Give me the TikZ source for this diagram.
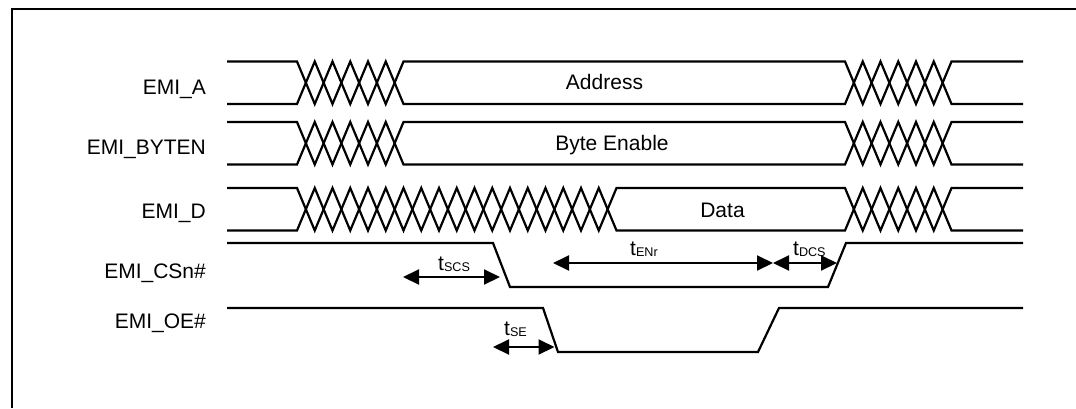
\documentclass[tikz,border=0pt]{standalone}
\usepackage{fontspec}
\setmainfont{Liberation Sans}
\usetikzlibrary{arrows.meta}
\newcommand\tlab[1]{t\raisebox{-1.5pt}{\fontsize{12.6}{14}\selectfont #1}}
\begin{document}
\begin{tikzpicture}[x=1pt,y=-1pt,
  sig/.style={line width=2.2pt, line join=miter},
  framed/.style={line width=2pt},
  dimarrow/.style={line width=2pt, {Triangle[length=16pt,width=15pt]}-{Triangle[length=16pt,width=15pt]}},
  lab/.style={anchor=base east, inner sep=0pt, font=\fontsize{21}{25}\selectfont},
  txt/.style={anchor=base, inner sep=0pt, font=\fontsize{21}{25}\selectfont},
  tl/.style={anchor=base west, inner sep=0pt, font=\fontsize{21}{25}\selectfont}]
\useasboundingbox (0,0) rectangle (1076,408);
% frame
\draw[framed] (11.5,408) -- (11.5,8.5) -- (1076,8.5);
% signal labels
\node[lab] (lA) at (206,94.5) {EMI\_A};
\node[lab] (lB) at (206,154.5) {EMI\_BYTEN};
\node[lab] (lD) at (206,218) {EMI\_D};
\node[lab] (lC) at (206,278) {EMI\_CSn\#};
\node[lab] (lO) at (206,328) {EMI\_OE\#};
% EMI_A
\draw[sig] (227,61.5) -- (297,61.5)
  \foreach \i in {1,...,6}{ -- ({297+\i*17.75},{61.5+42.5*mod(\i,2)}) }
  -- (845,61.5)
  \foreach \i in {1,...,6}{ -- ({845+\i*17.75},{61.5+42.5*mod(\i,2)}) }
  -- (1023,61.5);
\draw[sig] (227,104) -- (297,104)
  \foreach \i in {1,...,6}{ -- ({297+\i*17.75},{104-42.5*mod(\i,2)}) }
  -- (845,104)
  \foreach \i in {1,...,6}{ -- ({845+\i*17.75},{104-42.5*mod(\i,2)}) }
  -- (1023,104);
\node[txt] (addr) at (604.5,89.5) {Address};
% EMI_BYTEN
\draw[sig] (227,122) -- (297,122)
  \foreach \i in {1,...,6}{ -- ({297+\i*17.75},{122+42.5*mod(\i,2)}) }
  -- (845,122)
  \foreach \i in {1,...,6}{ -- ({845+\i*17.75},{122+42.5*mod(\i,2)}) }
  -- (1023,122);
\draw[sig] (227,164.5) -- (297,164.5)
  \foreach \i in {1,...,6}{ -- ({297+\i*17.75},{164.5-42.5*mod(\i,2)}) }
  -- (845,164.5)
  \foreach \i in {1,...,6}{ -- ({845+\i*17.75},{164.5-42.5*mod(\i,2)}) }
  -- (1023,164.5);
\node[txt] (byten) at (612,150.5) {Byte Enable};
% EMI_D
\draw[sig] (227,188) -- (297,188)
  \foreach \i in {1,...,18}{ -- ({297+\i*17.75},{188+42.5*mod(\i,2)}) }
  -- (845,188)
  \foreach \i in {1,...,6}{ -- ({845+\i*17.75},{188+42.5*mod(\i,2)}) }
  -- (1023,188);
\draw[sig] (227,230.5) -- (297,230.5)
  \foreach \i in {1,...,18}{ -- ({297+\i*17.75},{230.5-42.5*mod(\i,2)}) }
  -- (845,230.5)
  \foreach \i in {1,...,6}{ -- ({845+\i*17.75},{230.5-42.5*mod(\i,2)}) }
  -- (1023,230.5);
\node[txt] (data) at (722.5,217) {Data};
% EMI_CSn#
\draw[sig] (227,243) -- (493,243) -- (510,287) -- (828,287) -- (846,243) -- (1023,243);
% EMI_OE#
\draw[sig] (227,308) -- (543,308) -- (558,352) -- (758,352) -- (779,308) -- (1023,308);
% timing arrows
\coordinate (scsL) at (403,277);
\coordinate (scsR) at (500,277);
\coordinate (enrL) at (553,263);
\coordinate (enrR) at (773,263);
\coordinate (dcsR) at (837,263);
\coordinate (seL) at (493,347);
\coordinate (seR) at (554.5,347);
\draw[dimarrow] (scsL) -- (scsR);
\draw[dimarrow] (enrL) -- (enrR);
\draw[dimarrow] (enrR) -- (dcsR);
\draw[dimarrow] (seL) -- (seR);
\node[tl] (tscs) at (438,270) {\tlab{SCS}};
\node[tl] (tenr) at (630,255) {\tlab{ENr}};
\node[tl] (tdcs) at (793,255) {\tlab{DCS}};
\node[tl] (tse) at (504,335) {\tlab{SE}};
\end{tikzpicture}
\end{document}
